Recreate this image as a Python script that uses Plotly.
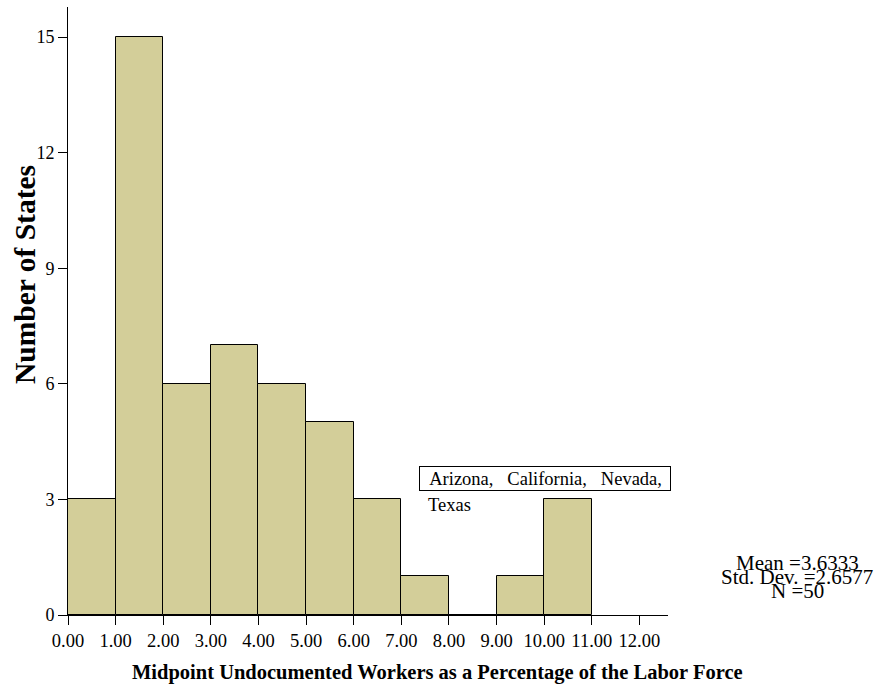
import plotly.graph_objects as go

bin_starts = [0, 1, 2, 3, 4, 5, 6, 7, 8, 9, 10]
counts = [3, 15, 6, 7, 6, 5, 3, 1, 0, 1, 3]
x_ticks = [0, 1, 2, 3, 4, 5, 6, 7, 8, 9, 10, 11, 12]
y_ticks = [0, 3, 6, 9, 12, 15]
stats = ["Mean =3.6333", "Std. Dev. =2.6577", "N =50"]
note_line1 = "&nbsp;&nbsp;Arizona,&nbsp;&nbsp;&nbsp;California,&nbsp;&nbsp;&nbsp;Nevada,"
note_line2 = "Texas"

FONT = "Liberation Serif, Times New Roman, serif"
L, R, T, B = 68, 210, 7, 74
W, H = 878, 689

fig = go.Figure()
fig.add_trace(go.Bar(
    x=[s + 0.5 for s in bin_starts], y=counts, width=1,
    marker=dict(color="#D3CE99", line=dict(color="black", width=1)),
    showlegend=False,
))

fig.update_layout(
    width=W, height=H,
    margin=dict(l=L, r=R, t=T, b=B, autoexpand=False),
    paper_bgcolor="white", plot_bgcolor="white",
    font=dict(family=FONT, size=17, color="black"),
    xaxis=dict(range=[0, 12.6], tickvals=x_ticks,
               ticktext=[f"{v:.2f}" for v in x_ticks],
               ticks="outside", ticklen=9, tickcolor="black",
               showline=True, linecolor="black", linewidth=1,
               showgrid=False, zeroline=False, tickfont=dict(size=18.5)),
    yaxis=dict(range=[0, 15.78], tickvals=y_ticks,
               ticks="outside", ticklen=9, tickcolor="black",
               showline=True, linecolor="black", linewidth=1,
               showgrid=False, zeroline=False, tickfont=dict(size=18)),
    bargap=0,
)

annos = [
    dict(text="<b>Number of States</b>", x=25, y=275, textangle=-90,
         font=dict(size=29.5)),
    dict(text="<b>Midpoint Undocumented Workers as a Percentage of the Labor Force</b>",
         x=437, y=672, font=dict(size=20.5)),
    dict(text=note_line1, x=544.5, y=478, font=dict(size=18.5),
         bordercolor="black", borderwidth=1, borderpad=0, width=250, height=23,
         align="left"),
    dict(text=note_line2, x=449, y=505, font=dict(size=18.5)),
]
for i, s in enumerate(stats):
    annos.append(dict(text=s, x=797, y=563 + 14 * i, font=dict(size=21)))

for a in annos:
    x_px, y_px = a.pop("x"), a.pop("y")
    fig.add_annotation(
        xref="paper", yref="paper",
        x=(x_px - L) / (W - L - R),
        y=1 - (y_px - T) / (H - T - B),
        xanchor="center", yanchor="middle", showarrow=False, **a,
    )

fig.write_html("out.html",
               config={"displayModeBar": False},
               post_script="document.body.style.margin='0';document.body.style.overflow='hidden';")
